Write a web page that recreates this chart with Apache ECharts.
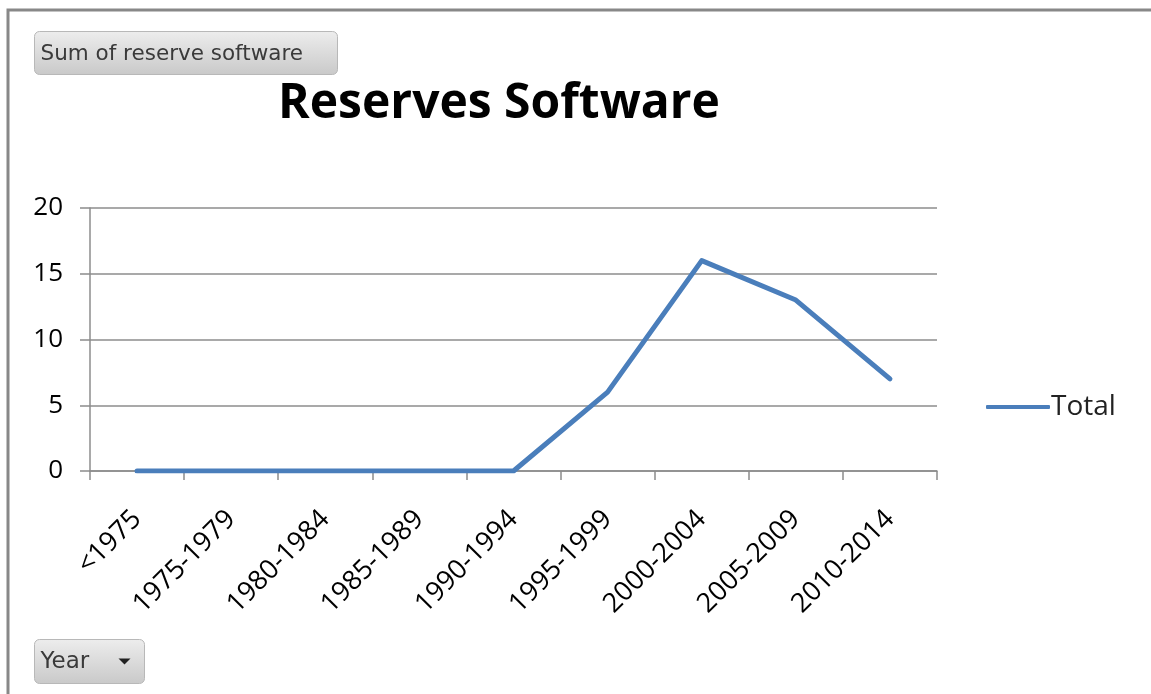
<!DOCTYPE html>
<html>
<head>
<meta charset="utf-8">
<script src="https://cdn.jsdelivr.net/npm/echarts@6/dist/echarts.min.js"></script>
<style>
html,body{margin:0;padding:0;background:#fff;}
#chart{width:1151px;height:694px;}
</style>
</head>
<body>
<div id="chart"></div>
<script>
var categories = ['<1975','1975-1979','1980-1984','1985-1989','1990-1994','1995-1999','2000-2004','2005-2009','2010-2014'];
var totalValues = [0,0,0,0,0,6,16,13,7];
var yTicks = {min:0, max:20, interval:5};
var titleText = 'Reserves Software';
var seriesName = 'Total';
var fieldButton = 'Sum of reserve software';
var axisButton = 'Year';

var chart = echarts.init(document.getElementById('chart'), null, {renderer:'canvas'});
var btnFill = new echarts.graphic.LinearGradient(0,0,0,1,[{offset:0,color:'#ededed'},{offset:1,color:'#c9c9c9'}]);
var btnFill2 = new echarts.graphic.LinearGradient(0,0,0,1,[{offset:0,color:'#ededed'},{offset:1,color:'#c9c9c9'}]);
var axisColor = '#8c8c8c';
chart.setOption({
  backgroundColor:'#ffffff',
  animation:false,
  title:{
    text:titleText, left:494, top:75, textAlign:'center',
    textStyle:{fontFamily:'Open Sans', fontWeight:'bold', fontSize:48, color:'#000'}
  },
  legend:{
    data:[seriesName], left:981, top:388, itemWidth:64, itemHeight:4, itemGap:0,
    icon:'roundRect',
    textStyle:{fontFamily:'Open Sans', fontSize:28, color:'#222', padding:[0,0,0,-4]}
  },
  grid:{left:90, right:214, top:208, bottom:223, containLabel:false},
  xAxis:{
    type:'category', data:categories, boundaryGap:true,
    axisLine:{lineStyle:{color:axisColor, width:1.5}},
    axisTick:{show:true, length:9, alignWithLabel:false, lineStyle:{color:axisColor, width:1.5}},
    axisLabel:{rotate:45, margin:44, padding:[22,0,0,0], fontFamily:'Open Sans', fontSize:27, color:'#000', interval:0},
    splitLine:{show:false}
  },
  yAxis:{
    type:'value', min:yTicks.min, max:yTicks.max, interval:yTicks.interval,
    axisLine:{show:true, lineStyle:{color:axisColor, width:1.5}},
    axisTick:{show:true, length:10, lineStyle:{color:axisColor, width:1.5}},
    axisLabel:{margin:27, fontFamily:'Open Sans', fontSize:26, color:'#000'},
    splitLine:{show:true, lineStyle:{color:axisColor, width:1.5}}
  },
  series:[{
    name:seriesName, type:'line', data:totalValues, showSymbol:false, symbol:'none',
    lineStyle:{color:'#4a7ebb', width:5, cap:'round', join:'round'},
    itemStyle:{color:'#4a7ebb'}
  }],
  graphic:[
    {type:'rect', silent:true, shape:{x:8, y:10, width:1160, height:700},
     style:{fill:'none', stroke:'#888888', lineWidth:3}},
    {type:'group', left:34, top:31, children:[
      {type:'rect', shape:{x:0,y:0,width:303,height:43,r:5},
       style:{fill:btnFill, stroke:'#b8b8b8', lineWidth:1}},
      {type:'text', x:6, y:23, style:{text:fieldButton, fontFamily:'DejaVu Sans', fontSize:21.5, fill:'#3a3a3a', verticalAlign:'middle'}}
    ]},
    {type:'group', left:34, top:639, children:[
      {type:'rect', shape:{x:0,y:0,width:110,height:44,r:5},
       style:{fill:btnFill2, stroke:'#b8b8b8', lineWidth:1}},
      {type:'text', x:6, y:23, style:{text:axisButton, fontFamily:'DejaVu Sans', fontSize:23, fill:'#3a3a3a', verticalAlign:'middle'}},
      {type:'polygon', shape:{points:[[84,19],[96,19],[90,25]]}, style:{fill:'#222'}}
    ]}
  ]
});
</script>
</body>
</html>
